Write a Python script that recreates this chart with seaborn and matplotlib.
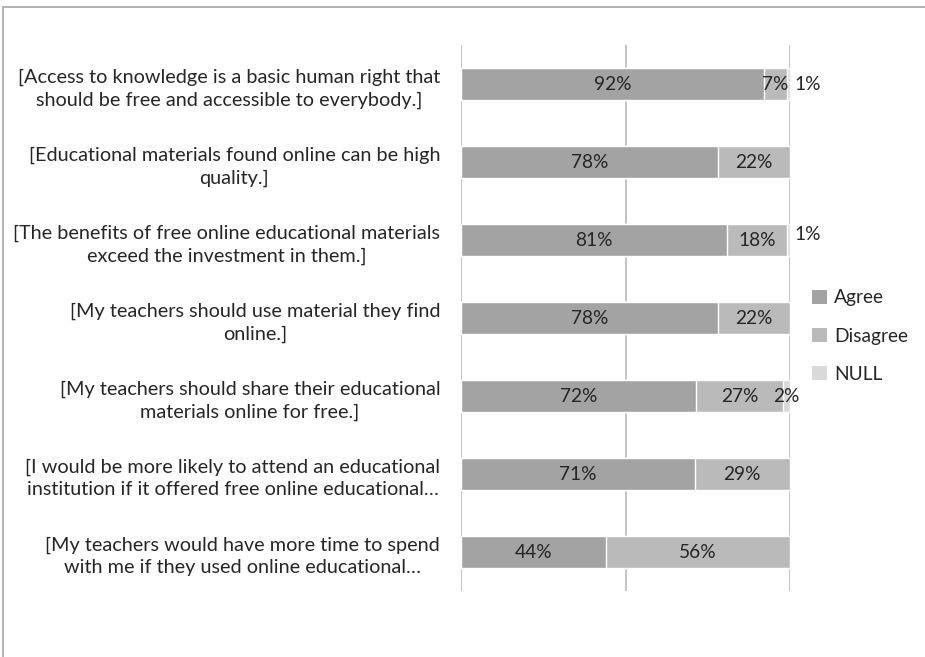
import matplotlib
matplotlib.use('Agg')
import matplotlib.pyplot as plt
from matplotlib.patches import Rectangle, Patch
import seaborn as sns
import numpy as np
import pandas as pd

# survey statements (top to bottom) and answer shares in %
statements = [
    "[Access to knowledge is a basic human right that\nshould be free and accessible to everybody.]",
    "[Educational materials found online can be high\nquality.]",
    "[The benefits of free online educational materials\nexceed the investment in them.]",
    "[My teachers should use material they find\nonline.]",
    "[My teachers should share their educational\nmaterials online for free.]",
    "[I would be more likely to attend an educational\ninstitution if it offered free online educational\u2026",
    "[My teachers would have more time to spend\nwith me if they used online educational\u2026",
]
agree = [92, 78, 81, 78, 72, 71, 44]
disagree = [7, 22, 18, 22, 27, 29, 56]
null = [1, 0, 1, 0, 2, 0, 0]

series_names = ['Agree', 'Disagree', 'NULL']
colors = ['#a3a3a3', '#bababa', '#d9d9d9']
text_col = '#262626'

sns.set_theme(style='white')
plt.rcParams['font.family'] = ['Lato', 'DejaVu Sans']

df = pd.DataFrame({'statement': statements, 'Agree': agree,
                   'Disagree': disagree, 'NULL': null})
# 100% stacked: normalise each row to its total
tot = df[series_names].sum(axis=1)
for s in series_names:
    df[s + '_pct'] = df[s] / tot * 100
df['cum_Agree'] = df['Agree_pct']
df['cum_Disagree'] = df['cum_Agree'] + df['Disagree_pct']
df['cum_NULL'] = df['cum_Disagree'] + df['NULL_pct']

fig = plt.figure(figsize=(9.25, 6.57), dpi=100)
ax = fig.add_axes([461 / 925, 1 - 591 / 657, 329 / 925, 546 / 657])

# draw the widest (cumulative) layer first so the shorter ones sit on top
for s, c in zip(series_names[::-1], colors[::-1]):
    sns.barplot(data=df, x='cum_' + s, y='statement', color=c, width=0.42,
                edgecolor='white', linewidth=1.0, orient='h', ax=ax,
                saturation=1)

ax.set_xlim(0, 100)
ax.set_ylim(len(statements) - 0.5, -0.5)
for gx in [0, 50, 100]:
    ax.axvline(gx, color='#b3b3b3', lw=1.1, zorder=0)
sns.despine(ax=ax, left=True, bottom=True)
ax.set_xticks([])
ax.set_xlabel('')
ax.set_ylabel('')
ax.set_yticks(range(len(statements)))
ax.set_yticklabels(statements, fontsize=14.3, color=text_col,
                   multialignment='center', linespacing=1.4)
ax.tick_params(axis='y', length=0, pad=15)

# segment labels
for i, row in df.iterrows():
    left = 0
    for s in series_names:
        w = row[s + '_pct']
        if row[s] > 0:
            if row[s] < 2:
                x = 105.5
                y = i - (0.07 if i == 2 else 0)
            else:
                x = left + w / 2
                y = i
            ax.text(x, y, f"{row[s]}%", ha='center', va='center',
                    fontsize=13.8, color=text_col, clip_on=False)
        left += w

handles = [Patch(facecolor=c, edgecolor='none') for c in colors]
ax.legend(handles, series_names, loc='center left', bbox_to_anchor=(1.015, 0.467),
          frameon=False, fontsize=13.8, handlelength=0.75, handleheight=0.75,
          handletextpad=0.4, labelspacing=1.1, labelcolor=text_col)

# outer chart border
fig.patches.append(Rectangle((3 / 925, -0.1), 1.2, 1.1 - 7 / 657,
                             transform=fig.transFigure, fill=False,
                             edgecolor='#a6a6a6', lw=1.2))

fig.savefig('out.png', dpi=100)
